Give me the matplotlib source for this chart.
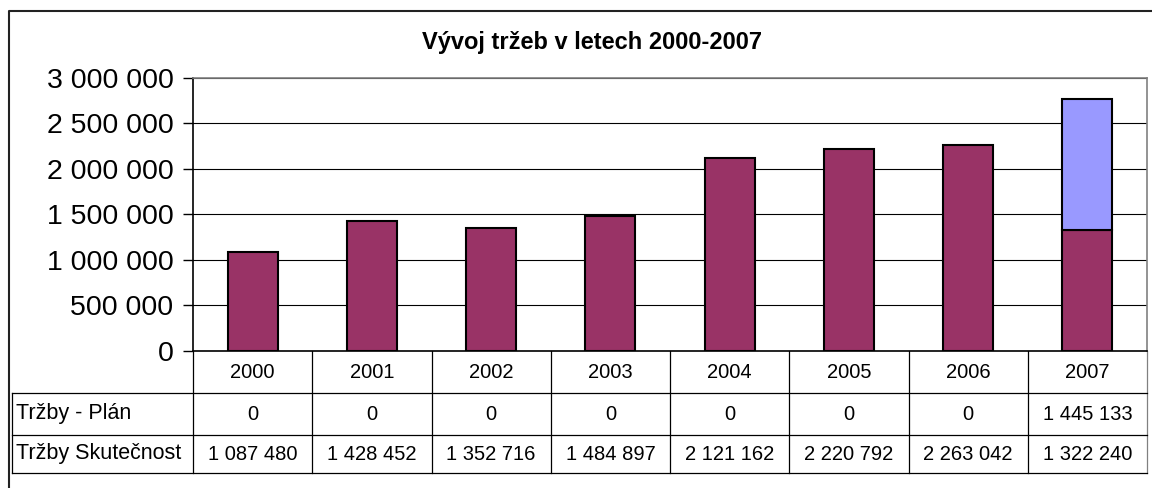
import matplotlib
matplotlib.use("Agg")
import matplotlib.pyplot as plt
import numpy as np

plt.rcParams["font.family"] = ["Liberation Sans", "DejaVu Sans"]

# ── Data ──────────────────────────────────────────────────────────────────────
years = ["2000", "2001", "2002", "2003", "2004", "2005", "2006", "2007"]
plan = [0, 0, 0, 0, 0, 0, 0, 1445133]
actual = [1087480, 1428452, 1352716, 1484897, 2121162, 2220792, 2263042, 1322240]
row_labels = ["Tržby - Plán", "Tržby Skutečnost"]
title = "Vývoj tržeb v letech 2000-2007"

ACTUAL_COLOR = "#993366"
PLAN_COLOR = "#9999FF"

W, H = 1152, 488
PLOT_L, PLOT_R, PLOT_T, PLOT_B = 193, 1147, 77.5, 351
ROWS_Y = [351, 393, 435, 473]
TABLE_L = 12
TABLE_FS = 14.5


def fmt(v):
    return f"{v:,.0f}".replace(",", " ")


fig = plt.figure(figsize=(W / 100, H / 100), dpi=100)

# overlay axes in pixel coordinates for border and data table
axo = fig.add_axes([0, 0, 1, 1])
axo.set_xlim(0, W)
axo.set_ylim(H, 0)
axo.axis("off")

# ── Bars ──────────────────────────────────────────────────────────────────────
ax = fig.add_axes([PLOT_L / W, 1 - PLOT_B / H,
                   (PLOT_R - PLOT_L) / W, (PLOT_B - PLOT_T) / H])
x = np.arange(len(years))
actual_a = np.array(actual)
plan_a = np.array(plan)
ax.bar(x, actual_a, width=0.42, color=ACTUAL_COLOR, edgecolor="black",
       linewidth=1.5, zorder=3)
m = plan_a > 0
ax.bar(x[m], plan_a[m], bottom=actual_a[m], width=0.42, color=PLAN_COLOR,
       edgecolor="black", linewidth=1.5, zorder=3)

ax.set_xlim(-0.5, len(years) - 0.5)
ax.set_ylim(0, 3_000_000)
ticks = np.arange(0, 3_000_001, 500_000)
ax.set_yticks(ticks)
ax.set_yticklabels([fmt(t) for t in ticks], fontsize=20.5)
ax.tick_params(axis="y", length=7, width=1, pad=7, color="black")
ax.set_xticks([])
ax.yaxis.grid(True, color="black", linewidth=0.8, zorder=0)
ax.set_axisbelow(True)
for side in ["top", "right"]:
    ax.spines[side].set_color("#808080")
    ax.spines[side].set_linewidth(1.2)
ax.spines["left"].set_color("black")
ax.spines["bottom"].set_color("black")
ax.spines["left"].set_linewidth(1.2)
ax.spines["bottom"].set_linewidth(1.2)
ax.set_facecolor("white")

# ── Outer border and title ────────────────────────────────────────────────────
axo.plot([9, 9, W + 5], [H + 5, 11, 11], color="#222222", linewidth=1.5)
axo.text(592, 42, title, ha="center", va="center", fontsize=17,
         fontweight="bold")

# ── Data table ────────────────────────────────────────────────────────────────
col_w = (PLOT_R - PLOT_L) / len(years)
edges = [PLOT_L + k * col_w for k in range(len(years) + 1)]
for k, xe in enumerate(edges):
    axo.plot([xe, xe], [ROWS_Y[0], ROWS_Y[-1]],
             color="#808080" if k == len(years) else "black", linewidth=0.9)
axo.plot([TABLE_L, TABLE_L], [ROWS_Y[1], ROWS_Y[-1]], color="black", linewidth=0.9)
for yr in ROWS_Y[1:]:
    axo.plot([TABLE_L, PLOT_R], [yr, yr], color="black", linewidth=0.9)

centers = [PLOT_L + (k + 0.5) * col_w for k in range(len(years))]
y_head = (ROWS_Y[0] + ROWS_Y[1]) / 2
for cx, yl in zip(centers, years):
    axo.text(cx, y_head, yl, ha="center", va="center", fontsize=TABLE_FS)

for r, (lab, vals) in enumerate(zip(row_labels, [plan, actual])):
    yc = (ROWS_Y[r + 1] + ROWS_Y[r + 2]) / 2
    axo.text(TABLE_L + 4, yc, lab, ha="left", va="center", fontsize=15.5)
    for cx, v in zip(centers, vals):
        axo.text(cx, yc, fmt(v), ha="center", va="center", fontsize=TABLE_FS)

fig.savefig("out.png", dpi=100)
